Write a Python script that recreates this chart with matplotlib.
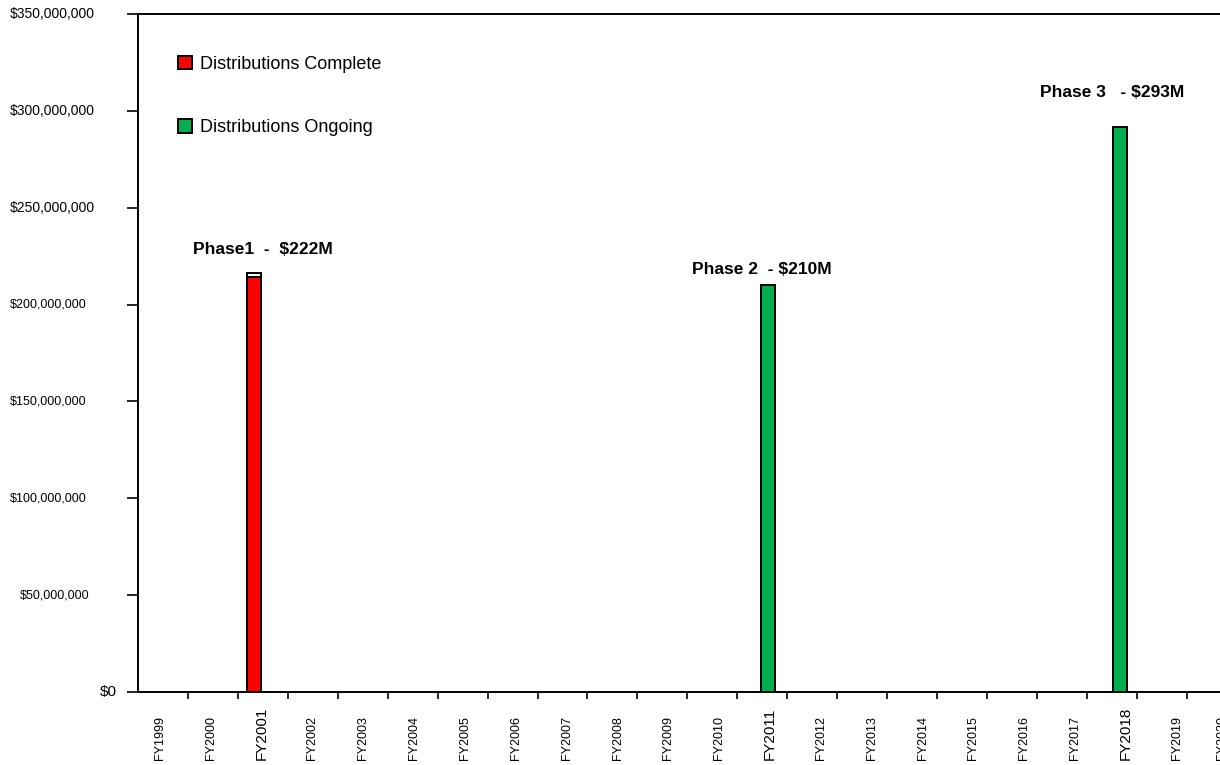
import matplotlib
matplotlib.use("Agg")
import matplotlib.pyplot as plt
from matplotlib.patches import Patch
import matplotlib.transforms as mtransforms

# category axis
years = ["FY1999", "FY2000", "FY2001", "FY2002", "FY2003", "FY2004", "FY2005",
         "FY2006", "FY2007", "FY2008", "FY2009", "FY2010", "FY2011", "FY2012",
         "FY2013", "FY2014", "FY2015", "FY2016", "FY2017", "FY2018", "FY2019",
         "FY2020"]
highlight_years = ["FY2001", "FY2011", "FY2018"]

# series values (dollars)
complete_years = ["FY2001"]
complete_vals = [214_000_000]
complete_cap = [2_500_000]          # small white cap on top of the red bar
ongoing_years = ["FY2011", "FY2018"]
ongoing_vals = [210_000_000, 291_500_000]

phase_labels = ["Phase1  -  $222M", "Phase 2  - $210M", "Phase 3   - $293M"]
phase_years = ["FY2001", "FY2011", "FY2018"]
phase_label_y = [228_500_000, 218_000_000, 309_500_000]

yticks = [0, 50_000_000, 100_000_000, 150_000_000, 200_000_000,
          250_000_000, 300_000_000, 350_000_000]

RED = "#FF0000"
GREEN = "#00B050"
FONT = "Liberation Sans"

fig = plt.figure(figsize=(12.2, 7.65), dpi=100)
ax = fig.add_axes([138 / 1220, 73 / 765, 1098.7 / 1220, 678 / 765])

idx = {y: i for i, y in enumerate(years)}
bw = 0.28
# bars sit a little off the category centre in the original
shift = {"FY2001": -0.17, "FY2011": 0.12, "FY2018": 0.16}
cx = [idx[y] + shift[y] for y in complete_years]
ax.bar(cx, complete_vals, width=bw, color=RED, edgecolor="black", linewidth=1.4, zorder=3)
ax.bar(cx, complete_cap, width=bw, bottom=complete_vals, color="white",
       edgecolor="black", linewidth=1.4, zorder=3)
ox = [idx[y] + shift[y] for y in ongoing_years]
ax.bar(ox, ongoing_vals, width=bw, color=GREEN, edgecolor="black", linewidth=1.4, zorder=3)

for lab, yr, yv in zip(phase_labels, phase_years, phase_label_y):
    ax.text(idx[yr], yv, lab, ha="center", va="center", fontsize=12.5,
            fontweight="bold", family=FONT)

ax.set_xlim(-0.5, len(years) - 0.5)
ax.set_ylim(0, 350_000_000)

# y ticks, labels drawn by hand (sizes differ in the original)
ax.set_yticks(yticks)
ax.set_yticklabels([])
ax.tick_params(axis="y", direction="out", length=8, width=1.2)
tr_y = mtransforms.blended_transform_factory(fig.transFigure, ax.transData)
for v in yticks:
    if v == 0:
        ax.text(117 / 1220, v, "$0", transform=tr_y, ha="right", va="center",
                fontsize=11, family=FONT)
        continue
    s = "${:,}".format(v)
    size = 10 if v >= 250_000_000 else 9
    x0 = 20 if v == 50_000_000 else 10
    ax.text(x0 / 1220, v, s, transform=tr_y, ha="left", va="center",
            fontsize=size, family=FONT)

# x ticks at category boundaries, labels by hand (label row is slightly wider than the axis)
ax.set_xticks([i + 0.5 for i in range(len(years))])
ax.set_xticklabels([])
ax.tick_params(axis="x", direction="out", length=5, width=1.2)
tr_x = mtransforms.blended_transform_factory(ax.transData, fig.transFigure)
for i, y in enumerate(years):
    big = y in highlight_years
    lx = min(-0.06 + i * 1.018, 21.2)
    ax.text(lx, 5 / 765, y, transform=tr_x, rotation=90, ha="center",
            va="bottom", fontsize=11 if big else 9, family=FONT)

for sp in ax.spines.values():
    sp.set_linewidth(1.4)

handles = [Patch(facecolor=RED, edgecolor="black", linewidth=1.4, label="Distributions Complete"),
           Patch(facecolor=GREEN, edgecolor="black", linewidth=1.4, label="Distributions Ongoing")]
leg = ax.legend(handles=handles, loc="upper left", bbox_to_anchor=(0.0215, 0.9625),
                frameon=False, labelspacing=2.55, handlelength=0.8, handleheight=0.8,
                handletextpad=0.45, prop={"family": FONT, "size": 13})

fig.savefig("out.png", dpi=100)
